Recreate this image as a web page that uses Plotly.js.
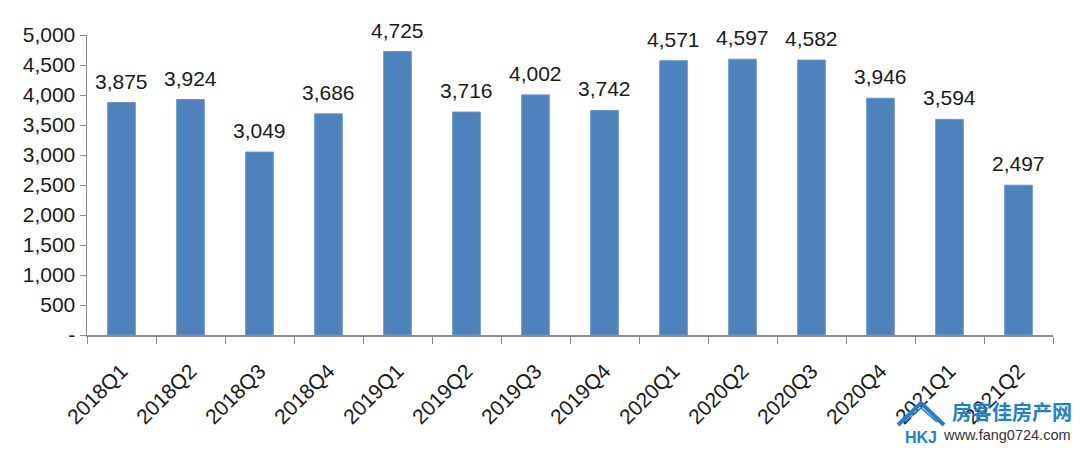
<!DOCTYPE html>
<html><head><meta charset="utf-8">
<script src="https://cdn.plot.ly/plotly-3.0.1.min.js"></script>
<style>html,body{margin:0;padding:0;background:#fff}#c{width:1080px;height:450px}</style>
</head><body><div id="c"></div>
<script>
const categories = ["2018Q1","2018Q2","2018Q3","2018Q4","2019Q1","2019Q2","2019Q3","2019Q4","2020Q1","2020Q2","2020Q3","2020Q4","2021Q1","2021Q2"];
const values = [3875,3924,3049,3686,4725,3716,4002,3742,4571,4597,4582,3946,3594,2497];
const yTickVals = [0,500,1000,1500,2000,2500,3000,3500,4000,4500,5000];
const yTickText = ["-","500","1,000","1,500","2,000","2,500","3,000","3,500","4,000","4,500","5,000"];

const font = "Liberation Sans, Arial, Helvetica, sans-serif";
const W = 966, H = 300, L = 87, T = 35;
const px = v => (v - L) / W;
const py = v => (T + H - v) / H;

const labels = categories.map((c,i)=>({
  x:c, y:values[i], xref:'x', yref:'y', text:values[i].toLocaleString('en-US'),
  showarrow:false, yanchor:'bottom', yshift:8, font:{family:font,size:21,color:'#1a1a1a'}
}));
labels.push({xref:'paper',yref:'paper',x:px(1074),y:py(411),xanchor:'right',yanchor:'middle',text:'<b>房客佳房产网</b>',showarrow:false,font:{family:'Noto Sans CJK SC',size:20,color:'#1f7fd1'}});
labels.push({xref:'paper',yref:'paper',x:px(1073),y:py(435),xanchor:'right',yanchor:'middle',text:'www.fang0724.com',showarrow:false,font:{family:font,size:14.5,color:'#333'}});
labels.push({xref:'paper',yref:'paper',x:px(921),y:py(437),xanchor:'center',yanchor:'middle',text:'<b>HKJ</b>',showarrow:false,font:{family:font,size:16,color:'#1f7fd1'}});

const shapes = [{
  type:'path', xref:'paper', yref:'paper',
  path:`M ${px(898)} ${py(425)} L ${px(921)} ${py(403)} L ${px(944)} ${py(425)}`,
  line:{color:'#1f7fd1', width:4}
},{
  type:'path', xref:'paper', yref:'paper',
  path:`M ${px(905)} ${py(422)} L ${px(921)} ${py(408)} L ${px(937)} ${py(422)}`,
  line:{color:'#1f7fd1', width:1.5}
}];

Plotly.newPlot('c',[{
  type:'bar', x:categories, y:values, width:0.4,
  marker:{color:'#4f81bd', line:{color:'#6b95c9', width:1}},
  hoverinfo:'none'
}],{
  width:1080,height:450,
  margin:{l:L,r:1080-L-W,t:T,b:450-T-H},
  paper_bgcolor:'#fff',plot_bgcolor:'#fff',
  showlegend:false,
  xaxis:{type:'category',tickangle:-45,showline:true,linecolor:'#8c8c8c',linewidth:1.5,
    ticks:'outside',tickson:'boundaries',ticklen:7,tickcolor:'#8c8c8c',ticklabelstandoff:14,
    tickfont:{family:font,size:21,color:'#1a1a1a'},showgrid:false,zeroline:false},
  yaxis:{range:[0,5000],tickvals:yTickVals,ticktext:yTickText,showline:true,linecolor:'#8c8c8c',linewidth:1.5,
    ticks:'outside',ticklen:6,tickcolor:'#8c8c8c',showgrid:false,zeroline:false,
    tickfont:{family:font,size:21,color:'#1a1a1a'}},
  annotations:labels, shapes:shapes
},{displayModeBar:false,staticPlot:true});
</script></body></html>
